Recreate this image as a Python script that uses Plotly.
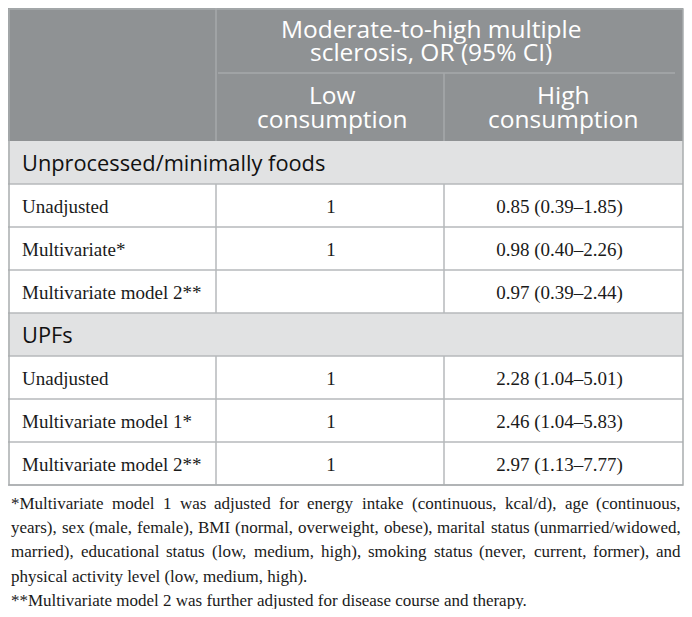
import plotly.graph_objects as go

# table content
header_lines = ["Moderate-to-high multiple", "sclerosis, OR (95% CI)"]
col_heads = [["Low", "consumption"], ["High", "consumption"]]

sections = ["Unprocessed/minimally foods", "UPFs"]

minimal_labels = ["Unadjusted", "Multivariate*", "Multivariate model 2**"]
minimal_low = ["1", "1", ""]
minimal_high = ["0.85 (0.39–1.85)", "0.98 (0.40–2.26)", "0.97 (0.39–2.44)"]

upf_labels = ["Unadjusted", "Multivariate model 1*", "Multivariate model 2**"]
upf_low = ["1", "1", "1"]
upf_high = ["2.28 (1.04–5.01)", "2.46 (1.04–5.83)", "2.97 (1.13–7.77)"]

footnotes = [
    "*Multivariate model 1 was adjusted for energy intake (continuous, kcal/d), age (continuous,",
    "years), sex (male, female), BMI (normal, overweight, obese), marital status (unmarried/widowed,",
    "married), educational status (low, medium, high), smoking status (never, current, former), and",
    "physical activity level (low, medium, high).",
    "**Multivariate model 2 was further adjusted for disease course and therapy.",
]
justified = [True, True, True, False, False]

# page geometry in pixels; the page body has an 8px margin, so the
# figure starts at page pixel 8 and the axes keep page coordinates
W, H = 692, 617
PAD = 8
left, c1, c2, right = 9, 216, 444, 683
top, head_mid, head_bot = 9, 73, 141
row_h = 43

HEAD_BG = "#8f9294"
BAND_BG = "#e1e2e3"
GRID = "#b6b9bb"
HEAD_LINE = "#a6a9ab"
BORDER = "#a9adae"
sans = "Open Sans"
serif = "Liberation Serif"
NOTE_SIZE = 17

# Times/Liberation Serif advance widths (1/1000 em), used to justify the notes
_tw = {" ": 250, ",": 250, ".": 250, "(": 333, ")": 333, "/": 278, "*": 500, "-": 333,
       "a": 444, "b": 500, "c": 444, "d": 500, "e": 444, "f": 333, "g": 500, "h": 500,
       "i": 278, "j": 278, "k": 500, "l": 278, "m": 778, "n": 500, "o": 500, "p": 500,
       "q": 500, "r": 333, "s": 389, "t": 278, "u": 500, "v": 500, "w": 722, "x": 500,
       "y": 500, "z": 444, "B": 667, "I": 333, "M": 889}


def text_w(s, size):
    return sum(_tw.get(ch, 500) for ch in s) / 1000 * size


fig = go.Figure()
shapes = []
annots = []

# header block
shapes.append(dict(type="rect", x0=0, x1=right, y0=0, y1=head_bot,
                   fillcolor=HEAD_BG, line=dict(width=0), layer="below"))
shapes.append(dict(type="line", x0=c1, x1=c1, y0=0, y1=head_bot, line=dict(color=HEAD_LINE, width=1.5)))
shapes.append(dict(type="line", x0=c2, x1=c2, y0=head_mid, y1=head_bot, line=dict(color=HEAD_LINE, width=1.5)))
shapes.append(dict(type="line", x0=c1 + 2, x1=right - 8, y0=head_mid, y1=head_mid,
                   line=dict(color=HEAD_LINE, width=1.5)))

head_font = dict(family=sans, size=24.5, color="white")
for yy, t in zip([28.5, 51.5], header_lines):
    annots.append(dict(x=431, y=yy, text=t, showarrow=False, xanchor="center", yanchor="middle",
                       font=head_font))
for xc, lines in zip([(c1 + c2) / 2 + 2, (c2 + right) / 2], col_heads):
    for yy, t in zip([94, 118], lines):
        annots.append(dict(x=xc, y=yy, text=t, showarrow=False, xanchor="center", yanchor="middle",
                           font=head_font))

groups = [(sections[0], minimal_labels, minimal_low, minimal_high),
          (sections[1], upf_labels, upf_low, upf_high)]

y = head_bot
lab_x, lab_y, lab_t = [], [], []
low_x, low_y, low_t = [], [], []
high_x, high_y, high_t = [], [], []
for sec, labels, lows, highs in groups:
    shapes.append(dict(type="rect", x0=0, x1=right, y0=y, y1=y + row_h,
                       fillcolor=BAND_BG, line=dict(width=0), layer="below"))
    annots.append(dict(x=20, y=y + row_h / 2 - 0.5, text=sec, showarrow=False, xanchor="left", yanchor="middle",
                       font=dict(family=sans, size=21.8, color="#111111")))
    shapes.append(dict(type="line", x0=0, x1=right, y0=y + row_h, y1=y + row_h, line=dict(color=GRID, width=1.5)))
    y += row_h
    for lab, lo, hi in zip(labels, lows, highs):
        yc = y + row_h / 2 + 3
        lab_x.append(22); lab_y.append(yc); lab_t.append(lab)
        low_x.append((c1 + c2) / 2 + 1); low_y.append(yc); low_t.append(lo)
        high_x.append((c2 + right) / 2 - 4); high_y.append(yc); high_t.append(hi)
        shapes.append(dict(type="line", x0=c1, x1=c1, y0=y, y1=y + row_h, line=dict(color=GRID, width=1.5)))
        shapes.append(dict(type="line", x0=c2, x1=c2, y0=y, y1=y + row_h, line=dict(color=GRID, width=1.5)))
        shapes.append(dict(type="line", x0=0, x1=right, y0=y + row_h, y1=y + row_h, line=dict(color=GRID, width=1.5)))
        y += row_h
table_bot = y

# outer border
shapes.append(dict(type="rect", x0=left, x1=right, y0=top, y1=table_bot,
                   line=dict(color=BORDER, width=1.5), fillcolor="rgba(0,0,0,0)"))

body_font = dict(family=serif, size=19, color="#1a1a1a")
fig.add_trace(go.Scatter(x=lab_x, y=lab_y, text=lab_t, mode="text", textposition="middle right",
                         textfont=body_font, hoverinfo="skip", showlegend=False))
fig.add_trace(go.Scatter(x=low_x, y=low_y, text=low_t, mode="text", textposition="middle center",
                         textfont=body_font, hoverinfo="skip", showlegend=False))
fig.add_trace(go.Scatter(x=high_x, y=high_y, text=high_t, mode="text", textposition="middle center",
                         textfont=body_font, hoverinfo="skip", showlegend=False))

# footnotes, first three lines justified across the table width
note_font = dict(family=serif, size=NOTE_SIZE, color="#1a1a1a")
note_l, note_r = PAD + 1, right - 4
for i, (line, just) in enumerate(zip(footnotes, justified)):
    yy = table_bot + 18 + i * 24.4
    if not just:
        annots.append(dict(x=note_l, y=yy, text=line, showarrow=False,
                           xanchor="left", yanchor="middle", font=note_font))
        continue
    words = line.split(" ")
    total = sum(text_w(wd, NOTE_SIZE) for wd in words)
    gap = (note_r - note_l - total) / (len(words) - 1)
    xx = note_l
    for wd in words:
        annots.append(dict(x=xx, y=yy, text=wd, showarrow=False,
                           xanchor="left", yanchor="middle", font=note_font))
        xx += text_w(wd, NOTE_SIZE) + gap

fig.update_layout(
    width=W - 2 * PAD, height=H - 2 * PAD,
    margin=dict(l=0, r=0, t=0, b=0),
    paper_bgcolor="white", plot_bgcolor="white",
    xaxis=dict(range=[PAD, W - PAD], visible=False, fixedrange=True),
    yaxis=dict(range=[H - PAD, PAD], visible=False, fixedrange=True),
    shapes=shapes, annotations=annots,
)

fig.write_html("out.html")
